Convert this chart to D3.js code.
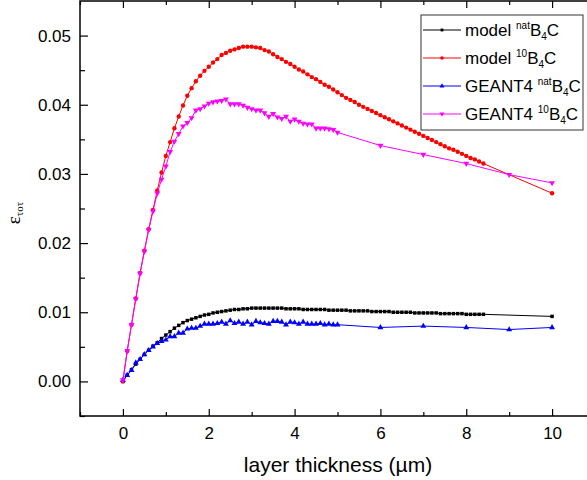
<!DOCTYPE html>
<html>
<head>
<meta charset="utf-8">
<script src="https://cdn.jsdelivr.net/npm/d3@7"></script>
<style>
  body { margin: 0; background: #fff; }
  svg { display: block; font-family: "Liberation Sans", Arial, sans-serif; }
</style>
</head>
<body>
<script>
// thickness grids (µm)
const thicknessModel = [0, 0.1, 0.2, 0.3, 0.4, 0.5, 0.6, 0.7, 0.8, 0.9,
  1.0, 1.1, 1.2, 1.3, 1.4, 1.5, 1.6, 1.7, 1.8, 1.9,
  2.0, 2.1, 2.2, 2.3, 2.4, 2.5, 2.6, 2.7, 2.8, 2.9,
  3.0, 3.1, 3.2, 3.3, 3.4, 3.5, 3.6, 3.7, 3.8, 3.9,
  4.0, 4.1, 4.2, 4.3, 4.4, 4.5, 4.6, 4.7, 4.8, 4.9,
  5.0, 5.1, 5.2, 5.3, 5.4, 5.5, 5.6, 5.7, 5.8, 5.9,
  6.0, 6.1, 6.2, 6.3, 6.4, 6.5, 6.6, 6.7, 6.8, 6.9,
  7.0, 7.1, 7.2, 7.3, 7.4, 7.5, 7.6, 7.7, 7.8, 7.9,
  8.0, 8.1, 8.2, 8.3, 8.4, 10];
const thicknessGeant = [0, 0.1, 0.2, 0.3, 0.4, 0.5, 0.6, 0.7, 0.8, 0.9,
  1.0, 1.1, 1.2, 1.3, 1.4, 1.5, 1.6, 1.7, 1.8, 1.9,
  2.0, 2.1, 2.2, 2.3, 2.4, 2.5, 2.6, 2.7, 2.8, 2.9,
  3.0, 3.1, 3.2, 3.3, 3.4, 3.5, 3.6, 3.7, 3.8, 3.9,
  4.0, 4.1, 4.2, 4.3, 4.4, 4.5, 4.6, 4.7, 4.8, 4.9,
  5.0, 6, 7, 8, 9, 10];

const modelNat = [0.0000, 0.0009, 0.0017, 0.0025, 0.0032, 0.0039, 0.0045, 0.0051, 0.0056, 0.0062,
  0.0067, 0.0072, 0.0077, 0.0081, 0.0085, 0.0088, 0.0090, 0.0092, 0.0094, 0.0096,
  0.0097, 0.0099, 0.0100, 0.0101, 0.0102, 0.0103, 0.0104, 0.0104, 0.0105, 0.0105,
  0.0106, 0.0106, 0.0106, 0.0106, 0.0106, 0.0106, 0.0106, 0.0106, 0.0105, 0.0105,
  0.0105, 0.0105, 0.0104, 0.0104, 0.0104, 0.0104, 0.0104, 0.0104, 0.0103, 0.0103,
  0.0103, 0.0103, 0.0103, 0.0102, 0.0102, 0.0102, 0.0102, 0.0102, 0.0101, 0.0101,
  0.0101, 0.0101, 0.0101, 0.0100, 0.0100, 0.0100, 0.0100, 0.0100, 0.0099, 0.0099,
  0.0099, 0.0099, 0.0099, 0.0099, 0.0098, 0.0098, 0.0098, 0.0098, 0.0098, 0.0098,
  0.0097, 0.0097, 0.0097, 0.0097, 0.0097, 0.0094];
const model10 = [0.0000, 0.0044, 0.0082, 0.0120, 0.0157, 0.0189, 0.0220, 0.0248, 0.0276, 0.0302,
  0.0326, 0.0346, 0.0366, 0.0383, 0.0399, 0.0413, 0.0424, 0.0434, 0.0442, 0.0449,
  0.0455, 0.0461, 0.0466, 0.0472, 0.0475, 0.0478, 0.0480, 0.0482, 0.0484, 0.0484,
  0.0484, 0.0483, 0.0482, 0.0479, 0.0477, 0.0473, 0.0469, 0.0466, 0.0462, 0.0459,
  0.0455, 0.0451, 0.0448, 0.0444, 0.0440, 0.0437, 0.0433, 0.0429, 0.0426, 0.0422,
  0.0418, 0.0414, 0.0410, 0.0407, 0.0404, 0.0400, 0.0397, 0.0394, 0.0391, 0.0388,
  0.0385, 0.0382, 0.0379, 0.0376, 0.0373, 0.0370, 0.0367, 0.0364, 0.0361, 0.0358,
  0.0355, 0.0352, 0.0349, 0.0346, 0.0343, 0.0340, 0.0337, 0.0335, 0.0332, 0.0329,
  0.0326, 0.0323, 0.0321, 0.0318, 0.0315, 0.0272];
const geantNat = [0.0002, 0.0009, 0.0016, 0.0027, 0.0032, 0.0039, 0.0045, 0.0050, 0.0055, 0.0058,
  0.0060, 0.0065, 0.0065, 0.0070, 0.0070, 0.0076, 0.0077, 0.0077, 0.0080, 0.0083,
  0.0083, 0.0083, 0.0084, 0.0086, 0.0083, 0.0088, 0.0084, 0.0086, 0.0083, 0.0086,
  0.0082, 0.0087, 0.0085, 0.0084, 0.0083, 0.0087, 0.0087, 0.0086, 0.0082, 0.0086,
  0.0085, 0.0083, 0.0086, 0.0083, 0.0083, 0.0083, 0.0084, 0.0082, 0.0083, 0.0082,
  0.0082, 0.0078, 0.0080, 0.0078, 0.0075, 0.0078];
const geant10 = [0.0002, 0.0044, 0.0082, 0.0119, 0.0156, 0.0188, 0.0219, 0.0246, 0.0272, 0.0292,
  0.0311, 0.0332, 0.0347, 0.0358, 0.0369, 0.0374, 0.0381, 0.0392, 0.0394, 0.0398,
  0.0402, 0.0404, 0.0405, 0.0406, 0.0408, 0.0401, 0.0401, 0.0401, 0.0399, 0.0396,
  0.0394, 0.0392, 0.0392, 0.0388, 0.0383, 0.0387, 0.0382, 0.0380, 0.0383, 0.0376,
  0.0379, 0.0376, 0.0373, 0.0372, 0.0372, 0.0366, 0.0366, 0.0366, 0.0365, 0.0364,
  0.0360, 0.0341, 0.0328, 0.0315, 0.0299, 0.0287];

const xTicks = [0, 2, 4, 6, 8, 10];
const xMinorTicks = [-1, 1, 3, 5, 7, 9];
const yTicks = [0, 0.01, 0.02, 0.03, 0.04, 0.05];
const yMinorTicks = [-0.005, 0.005, 0.015, 0.025, 0.035, 0.045];

const width = 587, height = 480;
const plotLeft = 80, plotTop = 1, plotBottom = 416, plotRight = 595;

const series = [
  { name: "model", iso: "nat", xs: thicknessModel, ys: modelNat, color: "#000000", shape: "square" },
  { name: "model", iso: "10", xs: thicknessModel, ys: model10, color: "#ff0000", shape: "circle" },
  { name: "GEANT4", iso: "nat", xs: thicknessGeant, ys: geantNat, color: "#0000ff", shape: "up" },
  { name: "GEANT4", iso: "10", xs: thicknessGeant, ys: geant10, color: "#ff00ff", shape: "down" }
];

const svg = d3.select("body").append("svg").attr("width", width).attr("height", height);

const xScale = d3.scaleLinear().domain([-1, 11]).range([plotLeft, plotRight]);
const yScale = d3.scaleLinear().domain([-0.005, 0.055]).range([plotBottom, plotTop]);

function symbolPath(shape, size) {
  if (shape === "square") return d3.symbol(d3.symbolSquare, size * 0.8)();
  if (shape === "circle") return d3.symbol(d3.symbolCircle, size)();
  return d3.symbol(d3.symbolTriangle, size)();
}

// curves
const line = d3.line().x((d) => xScale(d[0])).y((d) => yScale(d[1]));
series.forEach((s) => {
  const pts = s.xs.map((x, i) => [x, s.ys[i]]);
  svg.append("path").datum(pts)
    .attr("fill", "none").attr("stroke", s.color).attr("stroke-width", 1)
    .attr("d", line);
  svg.append("g").selectAll("path").data(pts).enter().append("path")
    .attr("d", symbolPath(s.shape, 15))
    .attr("fill", s.color)
    .attr("transform", (d) => "translate(" + xScale(d[0]) + "," + yScale(d[1]) + ")" + (s.shape === "down" ? " rotate(180)" : ""));
});

// axes, ticks pointing inward
const fmtY = d3.format(".2f");
svg.append("g").attr("transform", "translate(0," + plotBottom + ")")
  .call(d3.axisBottom(xScale).tickValues(xTicks).tickSizeInner(-7).tickSizeOuter(0).tickPadding(11).tickFormat(d3.format("d")));
svg.append("g").attr("transform", "translate(0," + plotBottom + ")")
  .call(d3.axisBottom(xScale).tickValues(xMinorTicks).tickSizeInner(-4).tickSizeOuter(0).tickFormat(""));
svg.append("g").attr("transform", "translate(0," + plotTop + ")")
  .call(d3.axisTop(xScale).tickValues(xTicks).tickSizeInner(-7).tickSizeOuter(0).tickFormat(""));
svg.append("g").attr("transform", "translate(0," + plotTop + ")")
  .call(d3.axisTop(xScale).tickValues(xMinorTicks).tickSizeInner(-4).tickSizeOuter(0).tickFormat(""));
svg.append("g").attr("transform", "translate(" + plotLeft + ",0)")
  .call(d3.axisLeft(yScale).tickValues(yTicks).tickSizeInner(-8).tickSizeOuter(0).tickPadding(9).tickFormat(fmtY));
svg.append("g").attr("transform", "translate(" + plotLeft + ",0)")
  .call(d3.axisLeft(yScale).tickValues(yMinorTicks).tickSizeInner(-5).tickSizeOuter(0).tickFormat(""));

svg.selectAll(".domain").remove();
svg.selectAll(".tick line").attr("stroke", "#000").attr("stroke-width", 1.2);
svg.selectAll(".tick text").attr("font-size", 17).attr("font-family", "Liberation Sans, Arial, sans-serif").attr("fill", "#000");

// frame
svg.append("rect").attr("x", plotLeft).attr("y", plotTop).attr("width", plotRight - plotLeft).attr("height", plotBottom - plotTop)
  .attr("fill", "none").attr("stroke", "#000").attr("stroke-width", 1.5);

// axis titles
svg.append("text").attr("x", 338).attr("y", 472).attr("text-anchor", "middle")
  .attr("font-size", 21).text("layer thickness (µm)");

const yt = svg.append("text").attr("transform", "translate(20,213) rotate(-90)")
  .attr("text-anchor", "middle").attr("font-family", "Liberation Serif, serif").attr("font-size", 19);
yt.append("tspan").text("ε");
yt.append("tspan").attr("font-size", 11).attr("dy", 3).text("τοτ");

// legend
const lg = svg.append("g");
lg.append("rect").attr("x", 421).attr("y", 15).attr("width", 162).attr("height", 115)
  .attr("fill", "#fff").attr("stroke", "#333").attr("stroke-width", 1);
series.forEach((s, i) => {
  const cy = 30 + i * 28;
  lg.append("line").attr("x1", 423).attr("x2", 461).attr("y1", cy).attr("y2", cy)
    .attr("stroke", s.color).attr("stroke-width", 1);
  lg.append("path").attr("d", symbolPath(s.shape, 10)).attr("fill", s.color)
    .attr("transform", "translate(442," + cy + ")" + (s.shape === "down" ? " rotate(180)" : ""));
  const t = lg.append("text").attr("x", 465).attr("y", cy + 6).attr("font-size", 17);
  t.append("tspan").text(s.name + " ");
  t.append("tspan").attr("font-size", 10).attr("dy", -7).text(s.iso);
  t.append("tspan").attr("dy", 7).text("B");
  t.append("tspan").attr("font-size", 10).attr("dy", 4).text("4");
  t.append("tspan").attr("dy", -4).text("C");
});
</script>
</body>
</html>
